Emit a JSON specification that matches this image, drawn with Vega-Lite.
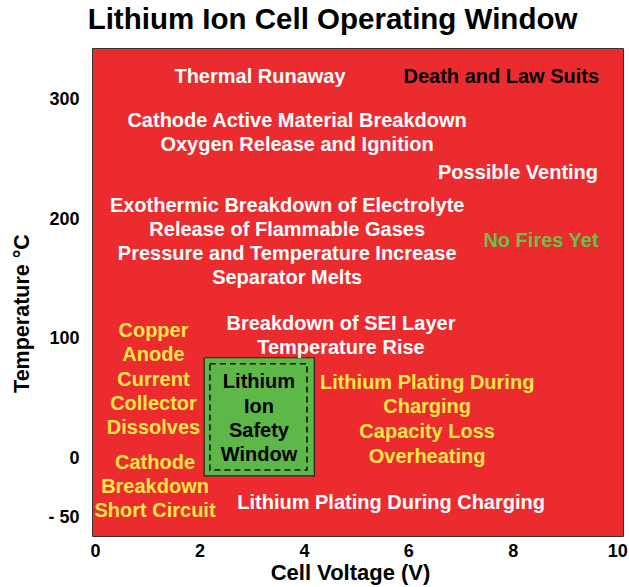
{
  "$schema": "https://vega.github.io/schema/vega-lite/v6.json",
  "width": 531,
  "height": 488,
  "autosize": "none",
  "padding": {"left": 92, "top": 48, "right": 6, "bottom": 51},
  "background": "white",
  "config": {
    "font": "Liberation Sans",
    "view": {"fill": "#EC2B2E", "stroke": "#333333", "strokeWidth": 1}
  },
  "title": {
    "text": "Lithium Ion Cell Operating Window",
    "fontSize": 29.5,
    "fontWeight": "bold",
    "color": "#000000",
    "anchor": "middle",
    "dx": -25,
    "offset": 13
  },
  "datasets": {
    "labels": [
      {"text": "Thermal Runaway", "v": 3.16, "t": 319, "kind": "effect"},
      {"text": "Death and Law Suits", "v": 7.78, "t": 319, "kind": "outcome"},
      {"text": "Cathode Active Material Breakdown", "v": 3.87, "t": 282, "kind": "effect"},
      {"text": "Oxygen Release and Ignition", "v": 3.87, "t": 262, "kind": "effect"},
      {"text": "Possible Venting", "v": 8.1, "t": 239, "kind": "effect"},
      {"text": "Exothermic Breakdown of Electrolyte", "v": 3.68, "t": 211, "kind": "effect"},
      {"text": "Release of Flammable Gases", "v": 3.68, "t": 191, "kind": "effect"},
      {"text": "No Fires Yet", "v": 8.54, "t": 182, "kind": "nofire"},
      {"text": "Pressure and Temperature Increase", "v": 3.68, "t": 171, "kind": "effect"},
      {"text": "Separator Melts", "v": 3.68, "t": 151, "kind": "effect"},
      {"text": "Breakdown of SEI Layer", "v": 4.71, "t": 112, "kind": "effect"},
      {"text": "Temperature Rise", "v": 4.71, "t": 92, "kind": "effect"},
      {"text": "Copper", "v": 1.12, "t": 106, "kind": "electrical"},
      {"text": "Anode", "v": 1.12, "t": 86, "kind": "electrical"},
      {"text": "Current", "v": 1.12, "t": 65, "kind": "electrical"},
      {"text": "Collector", "v": 1.12, "t": 45, "kind": "electrical"},
      {"text": "Dissolves", "v": 1.12, "t": 25, "kind": "electrical"},
      {"text": "Cathode", "v": 1.15, "t": -4, "kind": "electrical"},
      {"text": "Breakdown", "v": 1.15, "t": -24, "kind": "electrical"},
      {"text": "Short Circuit", "v": 1.15, "t": -44, "kind": "electrical"},
      {"text": "Lithium Plating During", "v": 6.36, "t": 63, "kind": "electrical"},
      {"text": "Charging", "v": 6.36, "t": 43, "kind": "electrical"},
      {"text": "Capacity Loss", "v": 6.36, "t": 22, "kind": "electrical"},
      {"text": "Overheating", "v": 6.36, "t": 1, "kind": "electrical"},
      {"text": "Lithium Plating During Charging", "v": 5.67, "t": -38, "kind": "effect"},
      {"text": "Lithium", "v": 3.14, "t": 64, "kind": "safe"},
      {"text": "Ion", "v": 3.14, "t": 43, "kind": "safe"},
      {"text": "Safety", "v": 3.14, "t": 23, "kind": "safe"},
      {"text": "Window", "v": 3.14, "t": 2.5, "kind": "safe"}
    ],
    "zones": [
      {"zone": "safety window", "v1": 2.09, "v2": 4.2, "t1": -15, "t2": 84}
    ],
    "inner": [
      {"zone": "safety window", "v1": 2.2, "v2": 4.06, "t1": -10, "t2": 79}
    ]
  },
  "layer": [
    {
      "data": {"name": "zones"},
      "mark": {"type": "rect", "fill": "#5DB847", "stroke": "#222222", "strokeWidth": 1.2},
      "encoding": {
        "x": {
          "field": "v1", "type": "quantitative",
          "scale": {"domain": [-0.057, 10.11], "nice": false, "zero": false},
          "axis": {
            "title": "Cell Voltage (V)",
            "values": [0, 2, 4, 6, 8, 10],
            "grid": false, "ticks": false, "domain": false,
            "labelFontSize": 18, "labelFontWeight": "bold", "labelColor": "#000000",
            "labelPadding": 6,
            "titleFontSize": 22, "titleFontWeight": "bold", "titleColor": "#000000",
            "titlePadding": 2,
            "titleX": 258
          }
        },
        "x2": {"field": "v2"},
        "y": {
          "field": "t1", "type": "quantitative",
          "scale": {"domain": [-65.3, 343.4], "nice": false, "zero": false},
          "axis": {
            "title": "Temperature °C",
            "values": [-50, 0, 100, 200, 300],
            "labelExpr": "datum.value == -50 ? '- 50' : datum.label",
            "grid": false, "ticks": false, "domain": false,
            "labelFontSize": 18, "labelFontWeight": "bold", "labelColor": "#000000",
            "labelPadding": 13,
            "titleFontSize": 21.5, "titleFontWeight": "bold", "titleColor": "#000000",
            "titlePadding": 14,
            "titleY": 265
          }
        },
        "y2": {"field": "t2"}
      }
    },
    {
      "data": {"name": "inner"},
      "mark": {"type": "rect", "fill": null, "fillOpacity": 0, "stroke": "#111111", "strokeWidth": 1.6, "strokeDash": [6, 4]},
      "encoding": {
        "x": {"field": "v1", "type": "quantitative"},
        "x2": {"field": "v2"},
        "y": {"field": "t1", "type": "quantitative"},
        "y2": {"field": "t2"}
      }
    },
    {
      "data": {"name": "labels"},
      "mark": {"type": "text", "fontSize": 20, "fontWeight": "bold", "align": "center", "baseline": "middle"},
      "encoding": {
        "x": {"field": "v", "type": "quantitative"},
        "y": {"field": "t", "type": "quantitative"},
        "text": {"field": "text"},
        "color": {
          "field": "kind", "type": "nominal",
          "scale": {"domain": ["effect", "outcome", "nofire", "electrical", "safe"], "range": ["#FFFFFF", "#000000", "#6CC04A", "#FFE74A", "#000000"]},
          "legend": null
        }
      }
    }
  ]
}
